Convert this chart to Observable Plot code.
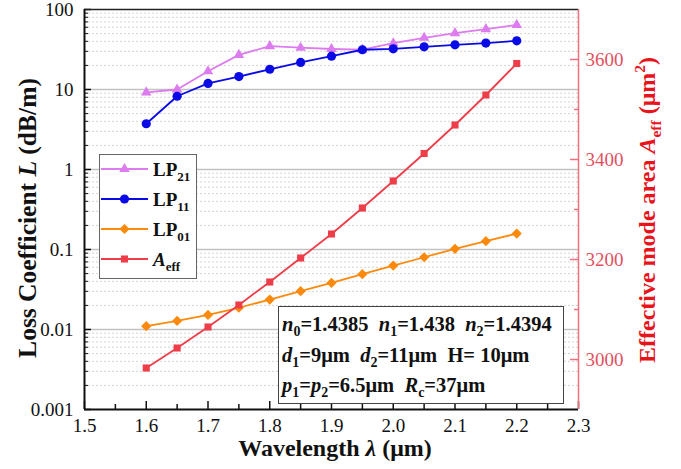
<!DOCTYPE html>
<html>
<head>
<meta charset="utf-8">
<script src="https://cdn.jsdelivr.net/npm/d3@7"></script>
<script src="https://cdn.jsdelivr.net/npm/@observablehq/plot@0.6"></script>
<style>
  body { margin: 0; background: #fff; }
  #chart svg text { white-space: pre; }
</style>
</head>
<body>
<div id="chart"></div>
<script>
// Wavelength sweep (µm)
const wavelength = [1.6, 1.65, 1.7, 1.75, 1.8, 1.85, 1.9, 1.95, 2.0, 2.05, 2.1, 2.15, 2.2];

// Loss coefficients (dB/m) per mode
const lossLP21 = [9.2, 10.0, 16.9, 27.1, 34.8, 33.3, 32.1, 31.5, 37.9, 44.3, 50.6, 56.8, 64.3];
const lossLP11 = [3.73, 8.24, 11.9, 14.5, 17.9, 21.8, 26.1, 31.4, 32.2, 34.2, 36.2, 38.0, 40.6];
const lossLP01 = [0.0110, 0.0128, 0.0152, 0.0187, 0.0237, 0.0301, 0.0383, 0.0492, 0.063, 0.080, 0.102, 0.127, 0.158];

// Effective mode area of LP01 (µm²), right axis
const aeff = [2983, 3023, 3065, 3109, 3155, 3203, 3251, 3303, 3357, 3412, 3469, 3529, 3592];

// Axis ticks
const xTicks = [1.5, 1.6, 1.7, 1.8, 1.9, 2.0, 2.1, 2.2, 2.3];
const xMinorTicks = [1.55, 1.65, 1.75, 1.85, 1.95, 2.05, 2.15, 2.25];
const lossTicks = [0.001, 0.01, 0.1, 1, 10, 100];
const areaTicks = [3000, 3200, 3400, 3600];
const areaMinorTicks = [3100, 3300, 3500];

// Series styling
const seriesNames = ["LP21", "LP11", "LP01", "Aeff"];
const seriesColors = ["#dc7cee", "#0a0ae6", "#fb8a0c", "#ee3d48"];
const seriesSymbols = ["triangle", "circle", "diamond2", "square"];
const seriesRadius = [3.9, 4.6, 4.6, 4.0];

// The area axis shares the log y scale: map [2900, 3700] linearly onto [1e-3, 1e2]
const AREA_MIN = 2900, AREA_MAX = 3700;
const areaToY = a => 10 ** (-3 + 5 * (a - AREA_MIN) / (AREA_MAX - AREA_MIN));

const lossMinorTicks = [];
for (const dec of [0.001, 0.01, 0.1, 1, 10]) for (let k = 2; k <= 9; k++) lossMinorTicks.push(+(dec * k).toPrecision(3));

const seriesValues = [lossLP21, lossLP11, lossLP01, aeff.map(areaToY)];
const data = seriesNames.flatMap((name, s) =>
  wavelength.map((w, i) => ({series: name, wavelength: w, value: seriesValues[s][i]}))
);

const W = 681, H = 469;
const mL = 84, mR = 103, mT = 9, mB = 60;
const plotW = W - mL - mR, plotH = H - mT - mB;
const AREA_AXIS = "#f07080";

const seriesMarks = seriesNames.flatMap((name, s) => {
  const rows = data.filter(d => d.series === name);
  return [
    Plot.line(rows, {x: "wavelength", y: "value", stroke: seriesColors[s], strokeWidth: 1.8}),
    Plot.dot(rows, {x: "wavelength", y: "value", symbol: () => seriesSymbols[s], fill: seriesColors[s], stroke: "none", r: seriesRadius[s]})
  ];
});

const plot = Plot.plot({
  width: W,
  height: H,
  marginLeft: mL,
  marginRight: mR,
  marginTop: mT,
  marginBottom: mB,
  style: {fontFamily: "'Liberation Serif', 'Times New Roman', serif", fontSize: "19px", color: "#111", background: "#fff"},
  x: {domain: [1.5, 2.3]},
  y: {type: "log", domain: [0.001, 100]},
  symbol: {type: "identity"},
  marks: [
    // grid
    Plot.ruleY(lossMinorTicks, {stroke: "#d4d4d4", strokeWidth: 1, strokeDasharray: "2,2"}),
    Plot.ruleY(lossTicks.slice(1, -1), {stroke: "#c2c2c2", strokeWidth: 1.5}),
    // data
    ...seriesMarks,
    // axis labels
    Plot.axisX({ticks: xTicks, tickSize: 0, tickPadding: 9, tickFormat: d => d.toFixed(1), label: null}),
    Plot.axisY({ticks: lossTicks, anchor: "left", tickSize: 0, tickPadding: 11, tickFormat: d => String(d), label: null}),
    Plot.text(areaTicks, {x: 2.3, y: areaToY, text: d => String(d), dx: 7, textAnchor: "start", fill: "#e2505e", fontSize: 19}),
    // inward tick marks
    Plot.tickX(xTicks, {x: d => d, insetTop: plotH - 8, stroke: "#111", strokeWidth: 1.5}),
    Plot.tickX(xMinorTicks, {x: d => d, insetTop: plotH - 5, stroke: "#111", strokeWidth: 1.5}),
    Plot.tickY(lossTicks, {y: d => d, insetRight: plotW - 7, stroke: "#111", strokeWidth: 1.5}),
    Plot.tickY(lossMinorTicks, {y: d => d, insetRight: plotW - 4, stroke: "#111", strokeWidth: 1}),
    Plot.tickY(areaTicks, {y: areaToY, insetLeft: plotW - 8, stroke: AREA_AXIS, strokeWidth: 1.5}),
    Plot.tickY(areaMinorTicks, {y: areaToY, insetLeft: plotW - 4, stroke: AREA_AXIS, strokeWidth: 1.5}),
    // frame
    Plot.ruleY([100], {stroke: "#222", strokeWidth: 1.5}),
    Plot.ruleY([0.001], {stroke: "#111", strokeWidth: 2}),
    Plot.ruleX([1.5], {stroke: "#111", strokeWidth: 2}),
    Plot.ruleX([2.3], {stroke: AREA_AXIS, strokeWidth: 1.5})
  ]
});

document.getElementById("chart").appendChild(plot);

const svg = d3.select(plot);
const FONT = "'Liberation Serif', 'Times New Roman', serif";

// Rich text: parts are {t, i (italic), sub, sup}
function richText(g, x, y, parts, {size = 19, subSize = 13, weight = "bold", fill = "#111", anchor = "start", transform = null} = {}) {
  const text = g.append("text")
    .attr("x", x).attr("y", y)
    .attr("font-family", FONT).attr("font-size", size).attr("font-weight", weight)
    .attr("fill", fill).attr("text-anchor", anchor);
  if (transform) text.attr("transform", transform);
  let shift = 0;
  for (const p of parts) {
    const target = p.sub ? Math.round(size * 0.26) : p.sup ? -Math.round(size * 0.4) : 0;
    const ts = text.append("tspan").text(p.t).attr("dy", target - shift);
    shift = target;
    if (p.i) ts.attr("font-style", "italic");
    if (p.sub || p.sup) ts.attr("font-size", subSize);
  }
  return text;
}

const overlay = svg.append("g");

// Legend
const legend = overlay.append("g");
legend.append("rect").attr("x", 99.5).attr("y", 154.5).attr("width", 97).attr("height", 124)
  .attr("fill", "#fff").attr("stroke", "#666").attr("stroke-width", 1);
const legendLabels = [
  [{t: "LP"}, {t: "21", sub: true}],
  [{t: "LP"}, {t: "11", sub: true}],
  [{t: "LP"}, {t: "01", sub: true}],
  [{t: "A", i: true}, {t: "eff", sub: true}]
];
const symbolTypes = {triangle: d3.symbolTriangle, circle: d3.symbolCircle, diamond2: d3.symbolDiamond2, square: d3.symbolSquare};
seriesNames.forEach((name, s) => {
  const cy = 169 + s * 30;
  legend.append("line").attr("x1", 101).attr("x2", 148).attr("y1", cy).attr("y2", cy)
    .attr("stroke", seriesColors[s]).attr("stroke-width", 1.8);
  legend.append("path")
    .attr("d", d3.symbol(symbolTypes[seriesSymbols[s]], Math.PI * seriesRadius[s] ** 2)())
    .attr("transform", `translate(124.5,${cy})`).attr("fill", seriesColors[s]);
  richText(legend, 153, cy + 7, legendLabels[s], {size: 19, subSize: 13});
});

// Fibre parameter box
const box = overlay.append("g");
box.append("rect").attr("x", 278.5).attr("y", 306.5).attr("width", 285).attr("height", 97)
  .attr("fill", "#fff").attr("stroke", "#444").attr("stroke-width", 1);
const boxStyle = {size: 20.5, subSize: 14};
richText(box, 282, 331, [
  {t: "n", i: true}, {t: "0", sub: true}, {t: "=1.4385  "},
  {t: "n", i: true}, {t: "1", sub: true}, {t: "=1.438  "},
  {t: "n", i: true}, {t: "2", sub: true}, {t: "=1.4394"}
], boxStyle);
richText(box, 282, 362, [
  {t: "d", i: true}, {t: "1", sub: true}, {t: "=9μm  "},
  {t: "d", i: true}, {t: "2", sub: true}, {t: "=11μm  H= 10μm"}
], boxStyle);
richText(box, 282, 392, [
  {t: "p", i: true}, {t: "1", sub: true}, {t: "="},
  {t: "p", i: true}, {t: "2", sub: true}, {t: "=6.5μm  "},
  {t: "R", i: true}, {t: "c", sub: true}, {t: "=37μm"}
], boxStyle);

// Axis titles
richText(overlay, 335, 456, [{t: "Wavelength "}, {t: "λ", i: true}, {t: " (μm)"}], {size: 24, anchor: "middle"});
richText(overlay, 0, 0, [{t: "Loss Coefficient "}, {t: "L", i: true}, {t: " (dB/m)"}],
  {size: 25.5, anchor: "middle", transform: "translate(36,218) rotate(-90)"});
richText(overlay, 0, 0, [{t: "Effective mode area "}, {t: "A", i: true}, {t: "eff", sub: true}, {t: " (μm"}, {t: "2", sup: true}, {t: ")"}],
  {size: 24, subSize: 15.5, anchor: "middle", fill: "#e8141c", transform: "translate(655,210) rotate(-90)"});
</script>
</body>
</html>
